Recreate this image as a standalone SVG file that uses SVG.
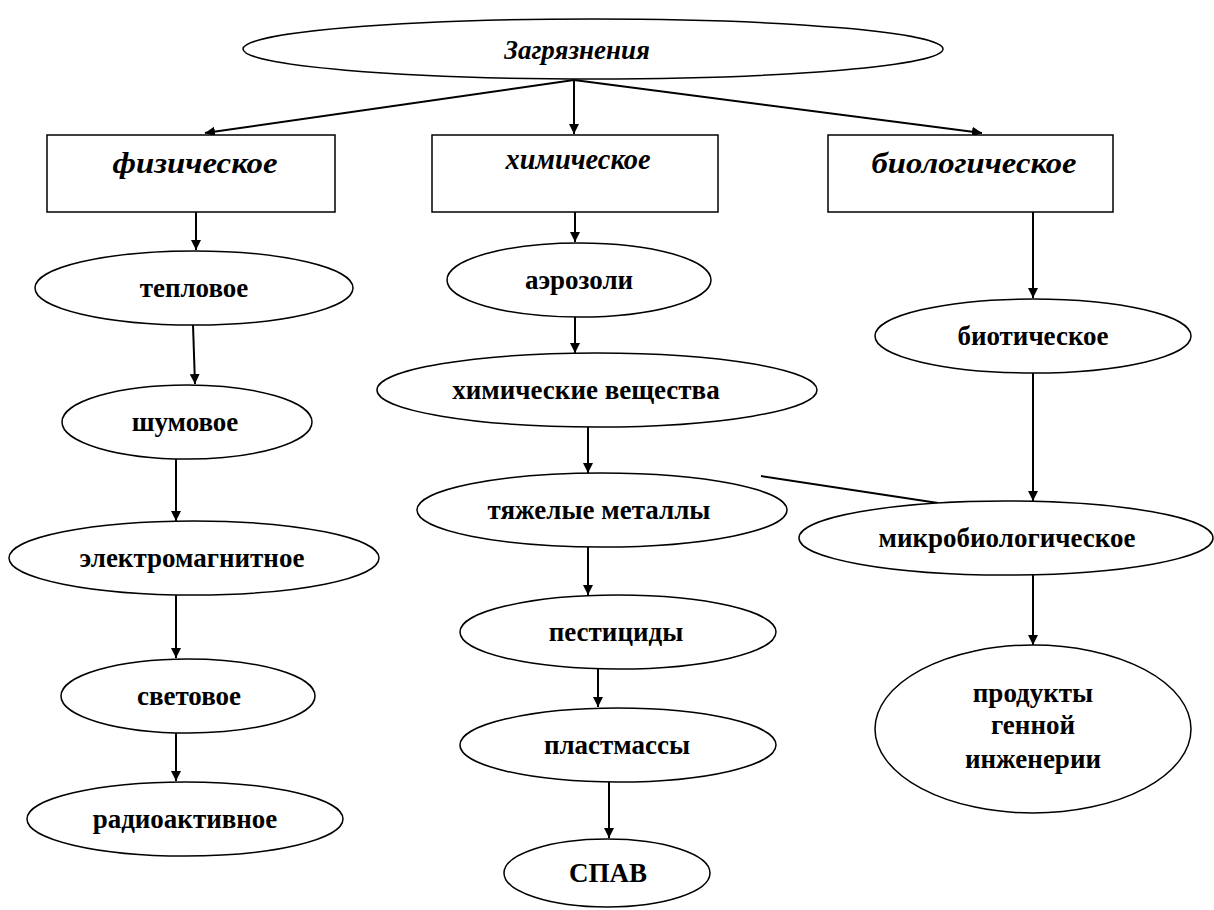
<svg xmlns="http://www.w3.org/2000/svg" width="1214" height="910" viewBox="0 0 1214 910">
<style>
.n{fill:#fff;stroke:#000;stroke-width:1.5}
.c{stroke:#000;stroke-width:2;fill:none}
text{font-family:'Liberation Serif','DejaVu Serif',serif;font-weight:bold;font-size:27px;text-anchor:middle;fill:#000}
.i{font-style:italic}
.h{font-size:29px}
</style>
<defs>
<marker id="a" viewBox="0 0 10 10" refX="10" refY="5" markerWidth="5" markerHeight="5" orient="auto" markerUnits="strokeWidth">
<path d="M0,0 L10,5 L0,10 Z" fill="#000"/>
</marker>
</defs>
<rect width="1214" height="910" fill="#fff"/>
<g id="connectors">
<line class="c" x1="574" y1="80" x2="205" y2="133" marker-end="url(#a)"/>
<line class="c" x1="574" y1="80" x2="574" y2="134" marker-end="url(#a)"/>
<line class="c" x1="574" y1="80" x2="982" y2="133" marker-end="url(#a)"/>
<line class="c" x1="196" y1="212" x2="196" y2="250" marker-end="url(#a)"/>
<line class="c" x1="193" y1="325" x2="195" y2="384" marker-end="url(#a)"/>
<line class="c" x1="176" y1="459" x2="176" y2="521" marker-end="url(#a)"/>
<line class="c" x1="176" y1="595" x2="176" y2="658" marker-end="url(#a)"/>
<line class="c" x1="176" y1="733" x2="176" y2="781" marker-end="url(#a)"/>
<line class="c" x1="575" y1="212" x2="575" y2="242" marker-end="url(#a)"/>
<line class="c" x1="575" y1="317" x2="575" y2="353" marker-end="url(#a)"/>
<line class="c" x1="588" y1="427" x2="588" y2="473" marker-end="url(#a)"/>
<line class="c" x1="588" y1="547" x2="588" y2="595" marker-end="url(#a)"/>
<line class="c" x1="598" y1="669" x2="598" y2="707" marker-end="url(#a)"/>
<line class="c" x1="609" y1="782" x2="609" y2="838" marker-end="url(#a)"/>
<line class="c" x1="1033" y1="212" x2="1033" y2="298" marker-end="url(#a)"/>
<line class="c" x1="1033" y1="373" x2="1033" y2="501" marker-end="url(#a)"/>
<line class="c" x1="1033" y1="575" x2="1033" y2="645" marker-end="url(#a)"/>
<line class="c" x1="761" y1="476" x2="938" y2="503"/>
</g>
<g id="root"><ellipse class="n" cx="593" cy="49" rx="350" ry="30"/><text class="i" x="577" y="59">Загрязнения</text></g>
<g id="phys"><rect class="n" x="47" y="135" width="288" height="77"/><text class="i h" x="195" y="173" textLength="165" lengthAdjust="spacingAndGlyphs">физическое</text></g>
<g id="chem"><rect class="n" x="432" y="135" width="286" height="77"/><text class="i h" x="578" y="169" textLength="145" lengthAdjust="spacingAndGlyphs">химическое</text></g>
<g id="bio"><rect class="n" x="828" y="135" width="285" height="77"/><text class="i h" x="974" y="173" textLength="205" lengthAdjust="spacingAndGlyphs">биологическое</text></g>
<g id="n1"><ellipse class="n" cx="194" cy="288" rx="159" ry="37"/><text x="194" y="297">тепловое</text></g>
<g id="n2"><ellipse class="n" cx="187" cy="422" rx="125" ry="37"/><text x="185" y="431">шумовое</text></g>
<g id="n3"><ellipse class="n" cx="194" cy="558" rx="185" ry="37"/><text x="192" y="567">электромагнитное</text></g>
<g id="n4"><ellipse class="n" cx="188" cy="696" rx="127" ry="37"/><text x="189" y="705">световое</text></g>
<g id="n5"><ellipse class="n" cx="185" cy="819" rx="158" ry="37"/><text x="185" y="828">радиоактивное</text></g>
<g id="m1"><ellipse class="n" cx="579" cy="280" rx="132" ry="37"/><text x="579" y="289">аэрозоли</text></g>
<g id="m2"><ellipse class="n" cx="597" cy="390" rx="220" ry="37"/><text x="586" y="399">химические вещества</text></g>
<g id="m3"><ellipse class="n" cx="602" cy="510" rx="185" ry="37"/><text x="599" y="519">тяжелые металлы</text></g>
<g id="m4"><ellipse class="n" cx="618" cy="632" rx="158" ry="37"/><text x="616" y="641">пестициды</text></g>
<g id="m5"><ellipse class="n" cx="618" cy="745" rx="158" ry="37"/><text x="617" y="754">пластмассы</text></g>
<g id="m6"><ellipse class="n" cx="607" cy="873" rx="103" ry="34"/><text x="608" y="882">СПАВ</text></g>
<g id="b1"><ellipse class="n" cx="1033" cy="336" rx="158" ry="37"/><text x="1033" y="345">биотическое</text></g>
<g id="b2"><ellipse class="n" cx="1006" cy="538" rx="207" ry="37"/><text x="1007" y="547">микробиологическое</text></g>
<g id="b3"><ellipse class="n" cx="1033" cy="729" rx="158" ry="84"/><text x="1033"><tspan x="1033" y="702">продукты</tspan><tspan x="1033" y="734">генной</tspan><tspan x="1033" y="768">инженерии</tspan></text></g>
</svg>
